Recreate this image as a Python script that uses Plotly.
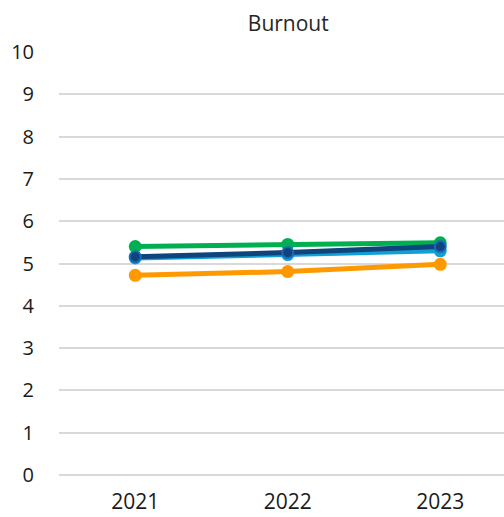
import plotly.graph_objects as go

years = ["2021", "2022", "2023"]
orange_vals = [4.72, 4.81, 4.98]
green_vals = [5.40, 5.45, 5.49]
light_blue_vals = [5.13, 5.21, 5.30]
dark_blue_vals = [5.16, 5.26, 5.40]
y_ticks = list(range(0, 11))

series = [
    ("Orange", orange_vals, "#ff9900", "#ff9900"),
    ("Green", green_vals, "#00b050", "#00b050"),
    ("Light blue", light_blue_vals, "#0fa0d6", "#0fa0d6"),
    ("Dark blue", dark_blue_vals, "#0f447d", "#1a68b8"),
]

fig = go.Figure()
for name, vals, color, edge in series:
    fig.add_trace(go.Scatter(
        x=years, y=vals, name=name, mode="lines+markers",
        line=dict(color=color, width=5),
        marker=dict(color=color, size=11, line=dict(color=edge, width=2)),
        cliponaxis=False,
    ))

fig.update_layout(
    width=504, height=517,
    margin=dict(l=59, r=0, t=52, b=42),
    paper_bgcolor="white", plot_bgcolor="white",
    showlegend=False,
    font=dict(family="Open Sans, Noto Sans, sans-serif", size=20, color="#1a1a1a"),
    title=dict(text="Burnout", x=0.572, xanchor="center", y=0.955, yanchor="middle",
               font=dict(size=21, color="#262626")),
)
fig.update_xaxes(
    type="category", range=[-0.5, 2.418], showgrid=False, zeroline=False,
    showline=False, ticks="", ticklabelstandoff=12, tickfont=dict(size=21),
    automargin=False,
)
fig.update_yaxes(
    range=[0, 10], tickvals=y_ticks, showgrid=True, gridcolor="#d9d9d9", gridwidth=1.5,
    zeroline=True, zerolinecolor="#d9d9d9", zerolinewidth=1.5,
    showline=False, ticks="", ticklabelstandoff=24, automargin=False,
)

fig.write_html("out.html")
